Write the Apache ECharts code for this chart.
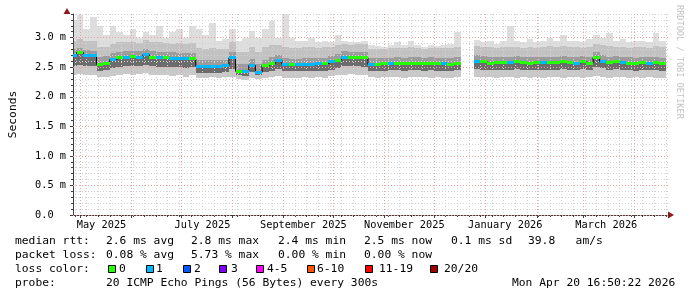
<!DOCTYPE html>
<html>
<head>
<meta charset="utf-8">
<script src="https://cdn.jsdelivr.net/npm/echarts@6/dist/echarts.min.js"></script>
<style>
html,body{margin:0;padding:0;background:#fff}
#main{width:697px;height:297px}
</style>
</head>
<body>
<div id="main"></div>
<script>
// smokeping style latency graph, one point every 4 days
var DAY = 86400000;
var startTime = Date.UTC(2025, 3, 27);
var stepDays = 4;
var xMin = Date.UTC(2025, 3, 26, 19);
var xMax = Date.UTC(2026, 3, 21, 7);

// median rtt (ms)
var median = [
  2.70,2.75,2.69,2.69,2.55,2.57,2.63,2.66,2.67,2.68,
  2.67,2.71,2.67,2.66,2.66,2.65,2.64,2.64,2.64,2.52,
  2.52,2.52,2.52,2.53,2.66,2.43,2.42,2.53,2.41,2.53,
  2.56,2.62,2.55,2.54,2.54,2.55,2.55,2.56,2.56,2.59,
  2.62,2.67,2.66,2.66,2.66,2.55,2.55,2.56,2.56,2.57,
  2.56,2.57,2.57,2.56,2.57,2.56,2.56,2.55,2.57,null,
  null,2.60,2.59,2.57,2.58,2.58,2.58,2.59,2.58,2.57,
  2.58,2.58,2.58,2.58,2.59,2.58,2.57,2.59,2.57,2.66,
  2.60,2.58,2.59,2.58,2.57,2.56,2.58,2.57,2.58,2.56
];
// lost pings per point (index into lossColors)
var loss = [
  1,0,1,1,0,0,1,0,1,0,
  1,1,0,1,0,1,1,1,0,1,
  1,1,1,1,1,0,1,1,1,0,
  0,1,1,0,1,1,1,1,0,1,
  0,1,0,0,0,1,0,0,1,0,
  0,0,0,0,0,0,1,0,0,null,
  null,1,0,0,0,0,1,0,0,0,
  0,1,0,0,0,0,1,0,0,0,
  1,0,0,1,0,0,0,1,0,0
];
// smoke bands (ms)
var smokeMax = [
  3.30,3.38,3.15,3.35,3.20,3.05,3.20,3.10,3.05,3.15,
  3.00,3.10,3.05,3.20,3.00,3.10,3.15,3.00,3.20,3.15,
  3.05,3.25,2.95,2.98,3.15,2.95,3.00,3.12,3.00,3.15,
  3.29,3.00,3.40,3.00,2.95,2.95,3.00,2.92,2.95,2.92,
  3.05,2.95,2.93,2.93,2.95,2.88,2.86,2.85,2.88,2.92,
  2.88,2.95,2.87,2.85,2.88,2.86,2.87,2.90,3.10,null,
  null,2.96,2.92,2.95,2.90,2.95,3.20,2.95,2.92,2.98,
  2.92,2.95,3.00,2.95,3.05,2.95,2.95,2.92,2.97,3.05,
  3.00,3.08,2.95,2.98,2.92,2.95,2.95,2.92,3.08,2.95
];
var smokeUp = [
  2.95,2.98,2.94,2.95,2.85,2.84,2.90,2.92,2.92,2.93,
  2.91,2.96,2.92,2.92,2.91,2.90,2.91,2.89,2.91,2.82,
  2.80,2.83,2.80,2.81,2.93,2.76,2.76,2.84,2.75,2.84,
  2.88,2.88,2.85,2.83,2.83,2.84,2.84,2.83,2.84,2.85,
  2.88,2.90,2.88,2.89,2.90,2.81,2.80,2.81,2.82,2.83,
  2.82,2.84,2.82,2.81,2.83,2.82,2.82,2.83,2.84,null,
  null,2.86,2.84,2.85,2.83,2.85,2.84,2.85,2.83,2.85,
  2.83,2.85,2.86,2.84,2.86,2.84,2.84,2.83,2.85,2.90,
  2.87,2.86,2.84,2.85,2.83,2.84,2.84,2.83,2.86,2.84
];
var smokeHi = [
  2.80,2.82,2.79,2.78,2.68,2.69,2.74,2.76,2.77,2.78,
  2.77,2.80,2.77,2.76,2.76,2.75,2.74,2.74,2.74,2.63,
  2.62,2.63,2.62,2.63,2.76,2.56,2.55,2.64,2.55,2.63,
  2.67,2.71,2.65,2.64,2.64,2.65,2.65,2.66,2.66,2.69,
  2.72,2.77,2.76,2.76,2.76,2.65,2.65,2.66,2.66,2.67,
  2.66,2.67,2.67,2.66,2.67,2.66,2.66,2.65,2.67,null,
  null,2.70,2.69,2.67,2.68,2.68,2.68,2.69,2.68,2.67,
  2.68,2.68,2.68,2.68,2.69,2.68,2.67,2.69,2.67,2.76,
  2.70,2.68,2.69,2.68,2.67,2.66,2.68,2.67,2.68,2.66
];
var smokeLo = [
  2.52,2.54,2.52,2.52,2.44,2.45,2.49,2.51,2.52,2.52,
  2.52,2.54,2.52,2.51,2.51,2.50,2.50,2.49,2.50,2.41,
  2.41,2.41,2.41,2.42,2.47,2.36,2.35,2.42,2.36,2.42,
  2.44,2.47,2.43,2.43,2.43,2.43,2.44,2.44,2.44,2.46,
  2.48,2.52,2.52,2.52,2.51,2.44,2.44,2.44,2.45,2.45,
  2.44,2.45,2.45,2.44,2.45,2.44,2.44,2.43,2.45,null,
  null,2.47,2.46,2.45,2.46,2.46,2.46,2.47,2.46,2.45,
  2.46,2.46,2.46,2.46,2.47,2.46,2.45,2.47,2.45,2.51,
  2.48,2.46,2.47,2.46,2.45,2.44,2.46,2.45,2.46,2.44
];
var smokeMin = [
  2.36,2.38,2.37,2.36,2.33,2.34,2.35,2.36,2.38,2.36,
  2.38,2.40,2.37,2.36,2.36,2.35,2.36,2.34,2.36,2.32,
  2.32,2.33,2.32,2.33,2.34,2.30,2.29,2.32,2.30,2.32,
  2.33,2.35,2.31,2.32,2.32,2.33,2.32,2.33,2.32,2.35,
  2.36,2.37,2.38,2.37,2.36,2.33,2.32,2.33,2.34,2.33,
  2.32,2.33,2.34,2.33,2.32,2.33,2.32,2.31,2.33,null,
  null,2.34,2.33,2.33,2.32,2.34,2.33,2.32,2.34,2.32,
  2.33,2.32,2.34,2.33,2.32,2.34,2.33,2.32,2.33,2.35,
  2.33,2.32,2.34,2.33,2.32,2.33,2.31,2.33,2.32,2.31
];

var xLabels = ['May 2025','July 2025','September 2025','November 2025','January 2026','March 2026'];
var xLabelDates = [Date.UTC(2025,4,14), Date.UTC(2025,6,14), Date.UTC(2025,8,13), Date.UTC(2025,10,13), Date.UTC(2026,0,13), Date.UTC(2026,2,15)];
var yTicks = [0, 0.5, 1, 1.5, 2, 2.5, 3];
var yLabels = ['0.0  ','0.5 m','1.0 m','1.5 m','2.0 m','2.5 m','3.0 m'];
var lossColors = ['#26ff00','#00b8ff','#0059ff','#7e00ff','#ff00ff','#ff5500','#ff0000','#a10000'];
var lossNames = ['0','1','2','3','4-5','6-10','11-19','20/20'];

var FONT = '"DejaVu Sans Mono", monospace';

// time of each sample
var times = [];
for (var i = 0; i < median.length; i++) times.push(startTime + i * stepDays * DAY);

// month grid lines and weekly minor lines
var monthStarts = [];
for (var m = 0; m < 12; m++) monthStarts.push(Date.UTC(2025, 4 + m, 1));
var weeks = [];
for (var w = Date.UTC(2025, 3, 28); w <= xMax; w += 7 * DAY) weeks.push(w);

var HALF = stepDays * DAY / 2;

// one block per sample between two bounds, edges snapped to whole pixels so neighbours meet
function blockItem(color) {
  return function (params, api) {
    var t = api.value(0);
    var a = api.coord([t - HALF, api.value(2)]);
    var b = api.coord([t + HALF, api.value(1)]);
    var x0 = Math.round(a[0]), x1 = Math.round(b[0]);
    var y0 = Math.round(a[1]), y1 = Math.round(b[1]);
    return {type: 'rect', shape: {x: x0, y: y0, width: x1 - x0, height: Math.max(y1 - y0, 0)},
      style: {fill: typeof color === 'function' ? color(params.dataIndex) : color}};
  };
}
function bandData(lower, upper) {
  var out = [];
  for (var k = 0; k < times.length; k++) {
    if (lower[k] == null || upper[k] == null) continue;
    out.push([times[k], lower[k], upper[k], k]);
  }
  return out;
}
function band(name, lower, upper, color) {
  return {
    name: name, type: 'custom', silent: true, z: 2, clip: true,
    data: bandData(lower, upper), encode: {x: 0, y: [1, 2]},
    renderItem: blockItem(color)
  };
}

// median drawn as a 3px bar coloured by loss
var medLo = [], medHi = [];
median.forEach(function (v) {
  medLo.push(v == null ? null : v - 0.025);
  medHi.push(v == null ? null : v + 0.025);
});
var medData = bandData(medLo, medHi);

var series = [
  band('s1', smokeMin, smokeLo, '#c8c8c8'),
  band('s2', smokeLo, median, '#6c6c6c'),
  band('s3', median, smokeHi, '#9c9c9c'),
  band('s4', smokeHi, smokeUp, '#c2c2c2'),
  band('s5', smokeUp, smokeMax, '#dedede'),
  {
    name: 'median-line', type: 'line', step: 'middle',
    data: median.map(function (v, k) { return [times[k], v]; }),
    symbol: 'none', z: 8, lineStyle: {color: '#000', width: 1}
  },
  {
    name: 'median', type: 'custom', silent: true, z: 9, clip: true,
    data: medData, encode: {x: 0, y: [1, 2]},
    renderItem: blockItem(function (idx) { return lossColors[loss[medData[idx][3]]]; })
  }
];

// legend texts
var g = [];
function txt(s, x, y) {
  g.push({type: 'text', x: x, y: y, silent: true,
    style: {text: s, font: '11.3px ' + FONT, fill: '#000', verticalAlign: 'middle'}});
}
txt('median rtt:', 15, 241);
txt('2.6 ms avg', 106, 241);
txt('2.8 ms max', 191, 241);
txt('2.4 ms min', 278, 241);
txt('2.5 ms now', 364, 241);
txt('0.1 ms sd', 451, 241);
txt('39.8   am/s', 528, 241);
txt('packet loss:', 15, 255);
txt('0.08 % avg', 106, 255);
txt('5.73 % max', 191, 255);
txt('0.00 % min', 278, 255);
txt('0.00 % now', 364, 255);
txt('loss color:', 15, 269);
var boxX = [108, 146, 183, 219, 256, 307, 365, 430];
var boxLabelX = [119, 156, 194, 231, 267, 317, 379, 444];
lossNames.forEach(function (n, k) {
  g.push({type: 'rect', shape: {x: boxX[k] + 0.5, y: 265.5, width: 7, height: 7}, silent: true,
    style: {fill: lossColors[k], stroke: '#000', lineWidth: 1}});
  txt(n, boxLabelX[k], 269);
});
txt('probe:', 15, 283);
txt('20 ICMP Echo Pings (56 Bytes) every 300s', 106, 283);
txt('Mon Apr 20 16:50:22 2026', 512, 283);
// watermark
g.push({type: 'text', x: 684, y: 5, rotation: -Math.PI / 2, silent: true,
  style: {text: 'RRDTOOL / TOBI OETIKER', font: '8.6px ' + FONT, fill: '#c4c4c4', verticalAlign: 'top'}});
// axis arrows
g.push({type: 'polygon', silent: true, shape: {points: [[63.5, 14], [70.5, 14], [67, 8]]}, style: {fill: '#8b1a1a'}});
g.push({type: 'polygon', silent: true, shape: {points: [[668, 211.5], [668, 218.5], [674, 215]]}, style: {fill: '#8b1a1a'}});

var minorLine = {show: true, lineStyle: {color: '#d2d2d2', width: 1, type: [1, 2]}};
var majorLine = {show: true, lineStyle: {color: '#eda0a0', width: 1, type: [1, 2]}};

var option = {
  animation: false,
  backgroundColor: '#fff',
  grid: {left: 67, right: 29, top: 14, bottom: 82},
  xAxis: [
    {
      type: 'value', position: 'bottom', min: xMin, max: xMax, z: 5,
      axisLine: {show: true, onZero: false, lineStyle: {color: '#404040'}},
      axisTick: {show: true, length: 2, customValues: weeks, lineStyle: {color: '#404040'}},
      axisLabel: {show: false},
      splitLine: minorLine
    },
    {
      type: 'value', position: 'bottom', min: xMin, max: xMax, z: 6,
      axisLine: {show: false},
      axisTick: {show: true, length: 3, customValues: monthStarts, lineStyle: {color: '#404040'}},
      axisLabel: {
        show: true, customValues: xLabelDates, margin: 5, color: '#000',
        fontFamily: FONT, fontSize: 10.3,
        formatter: function (v) { return xLabels[xLabelDates.indexOf(+v)] || ''; }
      },
      splitLine: majorLine
    }
  ],
  yAxis: [
    {
      type: 'value', position: 'left', min: 0, max: 3.4, interval: 0.1, z: 5,
      axisLine: {show: true, lineStyle: {color: '#404040'}},
      axisTick: {show: true, length: 2, lineStyle: {color: '#404040'}},
      axisLabel: {show: false},
      splitLine: minorLine,
      name: 'Seconds', nameLocation: 'middle', nameGap: 54,
      nameTextStyle: {fontFamily: FONT, fontSize: 11.3, color: '#000'}
    },
    {
      type: 'value', position: 'left', min: 0, max: 3.4, z: 6,
      axisLine: {show: false},
      axisTick: {show: true, length: 3, customValues: yTicks, lineStyle: {color: '#404040'}},
      axisLabel: {
        show: true, customValues: yTicks, margin: 7, color: '#000',
        fontFamily: FONT, fontSize: 10.3,
        formatter: function (v) {
          for (var k = 0; k < yTicks.length; k++) if (Math.abs(yTicks[k] - v) < 1e-6) return yLabels[k];
          return '';
        }
      },
      splitLine: majorLine
    }
  ],
  series: series,
  graphic: g
};

var chart = echarts.init(document.getElementById('main'), null, {renderer: 'canvas'});
chart.setOption(option);
</script>
</body>
</html>
